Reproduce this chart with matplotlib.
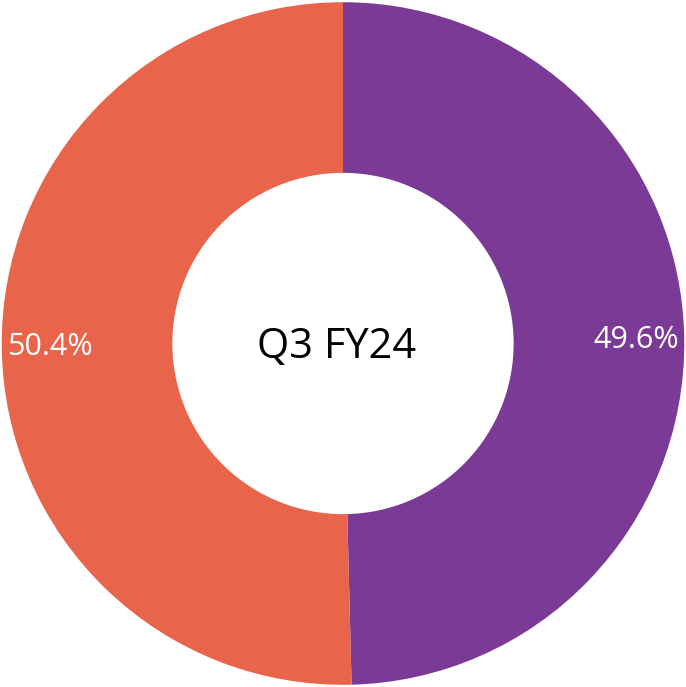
import numpy as np
import matplotlib.pyplot as plt

labels = ["A", "B"]
values = [49.6, 50.4]
colors = ["#7B3A96", "#E8644B"]
center_text = "Q3 FY24"

fig = plt.figure(figsize=(6.86, 6.87), dpi=100)
ax = fig.add_axes([0, 0, 1, 1])

wedges, texts, autotexts = ax.pie(
    values, colors=colors, startangle=90, counterclock=False,
    radius=1.0, autopct="%1.1f%%", pctdistance=0.86,
    wedgeprops=dict(width=0.5, edgecolor="none"),
    textprops=dict(color="white", fontsize=22, family="Open Sans"),
)
ax.text(-0.02, -0.01, center_text, ha="center", va="center", fontsize=30, family="Open Sans", color="black")
ax.set_xlim(-1.005, 1.005)
ax.set_ylim(-1.005, 1.005)
ax.set_aspect("equal")
ax.axis("off")

plt.savefig("out.png", dpi=100)
